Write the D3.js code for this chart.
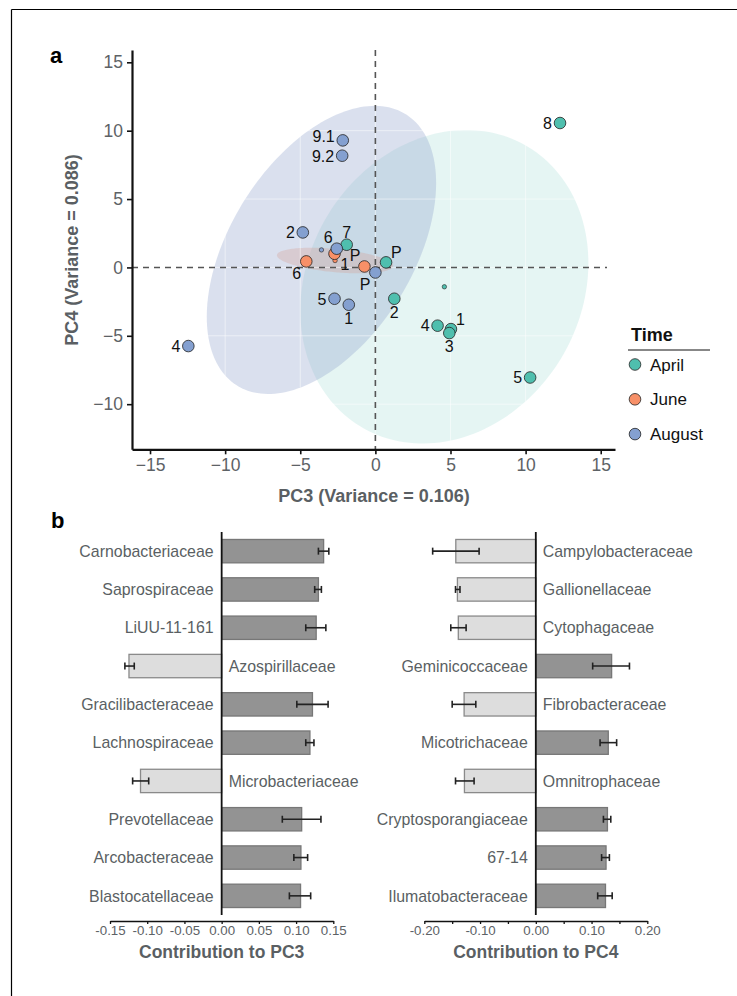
<!DOCTYPE html>
<html><head><meta charset="utf-8">
<script src="https://cdn.jsdelivr.net/npm/d3@7"></script>
<style>
body{margin:0;background:#fff;}
svg text{font-family:"Liberation Sans",Arial,sans-serif;}
</style></head>
<body><svg id="c" width="737" height="996"></svg>
<script>
// ---------- Panel a data (PCA scores) ----------
const groups = ["April","June","August"];
const groupColors = ["#4FBFAE","#F79068","#84A0D0"];
const ellipseColors = ["#4FBFAE","#F79068","#8DA0CB"];
const aprilPoints = [
  {label:"7", x:-1.91, y:1.66},
  {label:"P", x:0.71, y:0.37},
  {label:"2", x:1.26, y:-2.29},
  {label:"4", x:4.14, y:-4.26},
  {label:"1", x:5.03, y:-4.51},
  {label:"3", x:4.92, y:-4.80},
  {label:"5", x:10.30, y:-8.05},
  {label:"8", x:12.29, y:10.56}
];
const junePoints = [
  {label:"6", x:-4.60, y:0.44},
  {label:"1", x:-2.72, y:1.00},
  {label:"P", x:-0.73, y:0.07}
];
const augustPoints = [
  {label:"9.1", x:-2.17, y:9.29},
  {label:"9.2", x:-2.21, y:8.17},
  {label:"2", x:-4.83, y:2.56},
  {label:"6", x:-2.57, y:1.37},
  {label:"P", x:0.00, y:-0.37},
  {label:"5", x:-2.72, y:-2.29},
  {label:"1", x:-1.77, y:-2.73},
  {label:"4", x:-12.45, y:-5.75}
];
const xTicksA = [-15,-10,-5,0,5,10,15];
const yTicksA = [-10,-5,0,5,10,15];
// label placement side for each point (repel-like)
const aprilLabelSide = ["t","tr","b","l","tr","b","l","l"];
const juneLabelSide = ["bl","br","tl"];
const augustLabelSide = ["lu","ld","l","tl","bl","l","b","l"];

// ---------- Panel b data ----------
const pc3Families = ["Carnobacteriaceae","Saprospiraceae","LiUU-11-161","Azospirillaceae","Gracilibacteraceae","Lachnospiraceae","Microbacteriaceae","Prevotellaceae","Arcobacteraceae","Blastocatellaceae"];
const pc3Values = [0.137,0.130,0.127,-0.1245,0.122,0.1186,-0.109,0.1075,0.1065,0.106];
const pc3ErrLow = [0.130,0.125,0.113,-0.130,0.101,0.113,-0.1196,0.0815,0.097,0.091];
const pc3ErrHigh = [0.144,0.134,0.140,-0.1174,0.143,0.124,-0.098,0.1334,0.1155,0.1196];
const pc3Ticks = [-0.15,-0.10,-0.05,0.00,0.05,0.10,0.15];

const pc4Families = ["Campylobacteraceae","Gallionellaceae","Cytophagaceae","Geminicoccaceae","Fibrobacteraceae","Micotrichaceae","Omnitrophaceae","Cryptosporangiaceae","67-14","Ilumatobacteraceae"];
const pc4Values = [-0.1435,-0.1406,-0.139,0.136,-0.1286,0.130,-0.128,0.1285,0.126,0.125];
const pc4ErrLow = [-0.185,-0.144,-0.1525,0.102,-0.150,0.1153,-0.144,0.1213,0.118,0.111];
const pc4ErrHigh = [-0.1017,-0.136,-0.125,0.168,-0.1076,0.145,-0.1107,0.1345,0.132,0.137];
const pc4Ticks = [-0.20,-0.15,-0.10,-0.05,0.00,0.05,0.10,0.15,0.20];
const pc4TickLabels = ["-0.20","","-0.10","","0.00","","0.10","","0.20"];

const ELLIPSE_SD = 2; // ellipse radius in standard deviations

// ---------- Drawing ----------
const svg = d3.select("#c");
const tickColor = "#5d6266";
const labelGray = "#5a5f63";

// figure frame
svg.append("line").attr("x1",11.5).attr("x2",737).attr("y1",9.5).attr("y2",9.5).attr("stroke","#000").attr("stroke-width",1.2);
svg.append("line").attr("x1",11.5).attr("x2",11.5).attr("y1",9.5).attr("y2",996).attr("stroke","#000").attr("stroke-width",1.2);

svg.append("text").attr("x",50).attr("y",63).attr("font-size",22).attr("font-weight","bold").text("a");
svg.append("text").attr("x",51).attr("y",528).attr("font-size",22).attr("font-weight","bold").text("b");

const xA = d3.scaleLinear().domain([-16.2,15.95]).range([132,615]);
const yA = d3.scaleLinear().domain([-13.3,15.9]).range([449.3,50]);
const gA = svg.append("g");

const allGroups = [aprilPoints, junePoints, augustPoints];
const sides = [aprilLabelSide, juneLabelSide, augustLabelSide];

function stats(pts){
  const n = pts.length;
  const mx = d3.mean(pts,d=>d.x), my = d3.mean(pts,d=>d.y);
  let a=0,b=0,c=0;
  pts.forEach(p=>{a+=(p.x-mx)**2; b+=(p.x-mx)*(p.y-my); c+=(p.y-my)**2;});
  a/=(n-1); b/=(n-1); c/=(n-1);
  return {mx,my,a,b,c};
}
const ellG = gA.append("g");
const ellOpacity = [0.15,0.28,0.32];
allGroups.forEach((pts,gi)=>{
  const s = stats(pts);
  const r11 = Math.sqrt(s.a), r12 = s.b/r11, r22 = Math.sqrt(Math.max(s.c - r12*r12,0));
  const ring = d3.range(0,361,2).map(t=>{
    const an = t*Math.PI/180, co=Math.cos(an), si=Math.sin(an);
    return [xA(s.mx + ELLIPSE_SD*co*r11), yA(s.my + ELLIPSE_SD*(co*r12 + si*r22))];
  });
  ellG.append("path").attr("d", d3.line()(ring)+"Z")
    .attr("fill", ellipseColors[gi]).attr("fill-opacity", ellOpacity[gi]).attr("stroke","none");
});
// faint white grid (visible over ellipses)
const grid = gA.append("g");
xTicksA.forEach(t=>{ grid.append("line").attr("x1",xA(t)).attr("x2",xA(t)).attr("y1",50).attr("y2",449).attr("stroke","#fff").attr("stroke-opacity",0.5).attr("stroke-width",1);});
yTicksA.forEach(t=>{ grid.append("line").attr("y1",yA(t)).attr("y2",yA(t)).attr("x1",132).attr("x2",615).attr("stroke","#fff").attr("stroke-opacity",0.5).attr("stroke-width",1);});

// dashed zero lines
gA.append("line").attr("x1",xA(0)).attr("x2",xA(0)).attr("y1",50).attr("y2",449).attr("stroke","#555").attr("stroke-width",1.6).attr("stroke-dasharray","6,5");
gA.append("line").attr("x1",132).attr("x2",607).attr("y1",yA(0)).attr("y2",yA(0)).attr("stroke","#555").attr("stroke-width",1.6).attr("stroke-dasharray","6,5");

// centroid small dots
allGroups.forEach((pts,gi)=>{
  const s = stats(pts);
  gA.append("circle").attr("cx",xA(s.mx)).attr("cy",yA(s.my)).attr("r",2.2)
    .attr("fill",groupColors[gi]).attr("stroke","#222").attr("stroke-width",0.6);
});

// points
allGroups.forEach((pts,gi)=>{
  gA.selectAll(null).data(pts).enter().append("circle")
    .attr("cx",d=>xA(d.x)).attr("cy",d=>yA(d.y)).attr("r",5.8)
    .attr("fill",groupColors[gi]).attr("stroke","#222").attr("stroke-width",0.8);
});
// labels
const off = {l:[-8,0,"end"], lu:[-8,-4,"end"], ld:[-8,1,"end"], r:[8,0,"start"], t:[0,-12,"middle"], b:[0,13,"middle"],
  tl:[-4,-11,"end"], tr:[5,-10,"start"], bl:[-5,12,"end"], br:[6,10,"start"]};
allGroups.forEach((pts,gi)=>{
  pts.forEach((d,i)=>{
    const o = off[sides[gi][i]];
    gA.append("text").attr("x",xA(d.x)+o[0]).attr("y",yA(d.y)+o[1]).attr("dy","0.36em")
      .attr("text-anchor",o[2]).attr("font-size",16).attr("font-family","DejaVu Sans, sans-serif")
      .attr("fill","#111").text(d.label);
  });
});

// axes
const axX = gA.append("g").attr("transform","translate(0,449.3)")
  .call(d3.axisBottom(xA).tickValues(xTicksA).tickSize(5).tickPadding(4).tickSizeOuter(0));
const axY = gA.append("g").attr("transform","translate(132,0)")
  .call(d3.axisLeft(yA).tickValues(yTicksA).tickSize(5).tickPadding(4).tickSizeOuter(0));
[axX,axY].forEach(ax=>{
  ax.select(".domain").attr("stroke","#111").attr("stroke-width",2.2);
  ax.selectAll(".tick line").attr("stroke","#111").attr("stroke-width",1.6);
  ax.selectAll(".tick text").attr("font-size",17.5).attr("fill",tickColor).attr("font-family","Liberation Sans, Arial, sans-serif");
});
gA.append("text").attr("x",374).attr("y",502).attr("text-anchor","middle").attr("font-size",18)
  .attr("font-weight","bold").attr("fill",labelGray).text("PC3 (Variance = 0.106)");
gA.append("text").attr("transform","translate(78,250) rotate(-90)").attr("text-anchor","middle").attr("font-size",18)
  .attr("font-weight","bold").attr("fill",labelGray).text("PC4 (Variance = 0.086)");

// legend
const lg = svg.append("g");
lg.append("text").attr("x",631).attr("y",341).attr("font-size",18).attr("font-weight","bold").attr("fill","#111").text("Time");
lg.append("line").attr("x1",628).attr("x2",710).attr("y1",350).attr("y2",350).attr("stroke","#111").attr("stroke-width",1);
groups.forEach((g,i)=>{
  const yy = 364.5 + i*34.8;
  lg.append("circle").attr("cx",635).attr("cy",yy).attr("r",5.8).attr("fill",groupColors[i]).attr("stroke","#222").attr("stroke-width",0.8);
  lg.append("text").attr("x",650).attr("y",yy).attr("dy","0.36em").attr("font-size",17).attr("fill","#111").text(g);
});

// ---------- Panel b ----------
function barPanel(fams, vals, lo, hi, domain, range, ticks, tickLabels, title){
  const g = svg.append("g");
  const x = d3.scaleLinear().domain(domain).range(range);
  const y = d3.scaleBand().domain(fams).range([532,915]).paddingInner(0.39).paddingOuter(0.195);
  const data = fams.map((f,i)=>({f, v:vals[i], lo:lo[i], hi:hi[i]}));
  g.selectAll(null).data(data).enter().append("rect")
    .attr("x",d=>Math.min(x(0),x(d.v))).attr("width",d=>Math.abs(x(d.v)-x(0)))
    .attr("y",d=>y(d.f)).attr("height",y.bandwidth())
    .attr("fill",d=>d.v>0?"#939393":"#dddddd").attr("stroke",d=>d.v>0?"#777":"#8a8a8a").attr("stroke-width",1.3);
  data.forEach(d=>{
    const cy = y(d.f)+y.bandwidth()/2;
    g.append("line").attr("x1",x(d.lo)).attr("x2",x(d.hi)).attr("y1",cy).attr("y2",cy).attr("stroke","#222").attr("stroke-width",1.6);
    [d.lo,d.hi].forEach(e=>g.append("line").attr("x1",x(e)).attr("x2",x(e)).attr("y1",cy-3.5).attr("y2",cy+3.5).attr("stroke","#222").attr("stroke-width",1.6));
    g.append("text").attr("x", d.v>0 ? x(0)-8 : x(0)+7).attr("y",cy).attr("dy","0.36em")
      .attr("text-anchor", d.v>0?"end":"start").attr("font-size",15.9).attr("fill",labelGray).text(d.f);
  });
  g.append("line").attr("x1",x(0)).attr("x2",x(0)).attr("y1",532).attr("y2",915).attr("stroke","#111").attr("stroke-width",1.8);
  const ax = g.append("g").attr("transform","translate(0,921)")
    .call(d3.axisBottom(x).tickValues(ticks).tickFormat((t,i)=>tickLabels[i]).tickSize(3).tickPadding(2).tickSizeOuter(0));
  ax.select(".domain").attr("stroke","#111").attr("stroke-width",1.4);
  ax.selectAll(".tick line").attr("stroke","#111").attr("stroke-width",1.3);
  ax.selectAll(".tick text").attr("font-size",13.3).attr("fill",tickColor).attr("font-family","Liberation Sans, Arial, sans-serif");
  g.append("text").attr("x",x(0)).attr("y",957.5).attr("text-anchor","middle").attr("font-size",17.5)
    .attr("font-weight","bold").attr("fill",labelGray).text(title);
}
barPanel(pc3Families, pc3Values, pc3ErrLow, pc3ErrHigh, [-0.15,0.15],[110,333.3], pc3Ticks, pc3Ticks.map(t=>t.toFixed(2)), "Contribution to PC3");
barPanel(pc4Families, pc4Values, pc4ErrLow, pc4ErrHigh, [-0.20,0.20],[424.3,647.3], pc4Ticks, pc4TickLabels, "Contribution to PC4");
</script></body></html>
